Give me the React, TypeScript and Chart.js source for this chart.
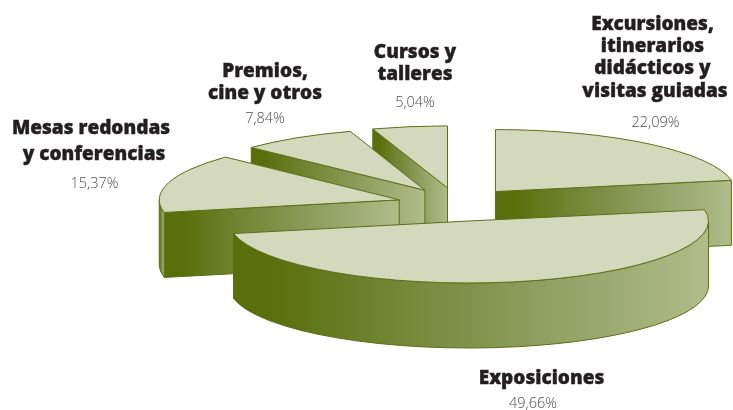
import React, { useEffect, useRef } from "react";
import { Chart, registerables } from "chart.js";

Chart.register(...registerables);

const categories = [
  "Excursiones, itinerarios didácticos y visitas guiadas",
  "Exposiciones",
  "Mesas redondas y conferencias",
  "Premios, cine y otros",
  "Cursos y talleres",
];
const shares = [22.09, 49.66, 15.37, 7.84, 5.04];
const labelLines = [
  ["Excursiones,", "itinerarios", "didácticos y", "visitas guiadas"],
  ["Exposiciones"],
  ["Mesas redondas", "y conferencias"],
  ["Premios,", "cine y otros"],
  ["Cursos y", "talleres"],
];

// Layout of the text blocks: centre x and baseline of every name line, then the share's position
const labelLayout = [
  { xs: [652.5, 652.5, 652.5, 655], ys: [30, 52, 74, 97], vy: 127, vx: 655.5 },
  { xs: [541.5], ys: [384], vy: 408, vx: 533 },
  { xs: [91, 94], ys: [134, 160], vy: 188, vx: 94.5 },
  { xs: [265, 265], ys: [77, 99], vy: 123, vx: 265 },
  { xs: [415, 415], ys: [58, 80], vy: 107, vx: 415 },
];

const CENTER_X = 457;
const CENTER_Y = 204.5;
const RADIUS_X = 240;
const RADIUS_Y = 62;
const OFFSET_TILT = 0.28;
const DEPTH = 65;
const SLICE_OFFSET = 45.6;

const CAP = "#d4d9be";
const EDGE = "#5d7014";
const LINE_WIDTH = 1;

function wallGradient(ctx: CanvasRenderingContext2D, x0: number, x1: number) {
  const g = ctx.createLinearGradient(x0, 0, x1, 0);
  g.addColorStop(0, "#5a6e0c");
  g.addColorStop(0.08, "#5a6e0c");
  g.addColorStop(0.3, "#6f8330");
  g.addColorStop(0.65, "#8f9f60");
  g.addColorStop(1, "#b0bc8a");
  return g;
}

const pie3d = {
  id: "pie3d",
  beforeDatasetDraw(chart: any) {
    const ctx: CanvasRenderingContext2D = chart.ctx;
    const arcs = chart.getDatasetMeta(0).data as any[];
    const slices = arcs.map((arc, i) => {
      const scale = RADIUS_X / arc.outerRadius;
      const mid = (arc.startAngle + arc.endAngle) / 2;
      const off = (arc.options.offset || 0) * scale;
      return {
        i,
        a0: arc.startAngle,
        a1: arc.endAngle,
        x: CENTER_X + off * Math.cos(mid),
        y: CENTER_Y + off * OFFSET_TILT * Math.sin(mid),
        fill: arc.options.backgroundColor,
      };
    });
    slices.sort((p, q) => p.y - q.y);

    ctx.save();
    ctx.lineWidth = LINE_WIDTH;
    ctx.strokeStyle = EDGE;
    ctx.lineJoin = "round";
    for (const s of slices) {
      const px = (a: number) => s.x + RADIUS_X * Math.cos(a);
      const py = (a: number) => s.y + RADIUS_Y * Math.sin(a);

      const radial = (a: number) => {
        const x0 = Math.min(s.x, px(a));
        const x1 = Math.max(s.x, px(a));
        ctx.beginPath();
        ctx.moveTo(s.x, s.y);
        ctx.lineTo(px(a), py(a));
        ctx.lineTo(px(a), py(a) + DEPTH);
        ctx.lineTo(s.x, s.y + DEPTH);
        ctx.closePath();
        ctx.fillStyle = wallGradient(ctx, x0, x1);
        ctx.fill();
        ctx.stroke();
      };
      if (Math.cos(s.a0) < -1e-6) radial(s.a0);
      if (Math.cos(s.a1) > 1e-6) radial(s.a1);

      const from = Math.max(s.a0, 0);
      const to = Math.min(s.a1, Math.PI);
      if (to > from) {
        ctx.beginPath();
        ctx.ellipse(s.x, s.y, RADIUS_X, RADIUS_Y, 0, from, to);
        ctx.ellipse(s.x, s.y + DEPTH, RADIUS_X, RADIUS_Y, 0, to, from, true);
        ctx.closePath();
        ctx.fillStyle = wallGradient(ctx, Math.min(px(from), px(to)), Math.max(px(from), px(to)));
        ctx.fill();
        ctx.stroke();
      }

      ctx.beginPath();
      ctx.moveTo(s.x, s.y);
      ctx.ellipse(s.x, s.y, RADIUS_X, RADIUS_Y, 0, s.a0, s.a1);
      ctx.closePath();
      ctx.fillStyle = s.fill;
      ctx.fill();
      ctx.stroke();
    }
    ctx.restore();
    return false;
  },
  afterDatasetsDraw(chart: any) {
    const ctx: CanvasRenderingContext2D = chart.ctx;
    ctx.save();
    ctx.textAlign = "center";
    ctx.textBaseline = "alphabetic";
    labelLines.forEach((lines, i) => {
      const l = labelLayout[i];
      ctx.font = '800 19px "Open Sans"';
      ctx.fillStyle = "#231f20";
      ctx.strokeStyle = "#231f20";
      ctx.lineWidth = 0.4;
      lines.forEach((t, k) => {
        ctx.fillText(t, l.xs[k], l.ys[k]);
        ctx.strokeText(t, l.xs[k], l.ys[k]);
      });
      ctx.font = '300 14.5px "Open Sans"';
      ctx.fillStyle = "#4d4d4f";
      ctx.fillText(shares[i].toFixed(2).replace(".", ",") + "%", l.vx, l.vy);
    });
    ctx.restore();
  },
};

export default function App() {
  const ref = useRef<HTMLCanvasElement | null>(null);
  useEffect(() => {
    const chart = new Chart(ref.current as HTMLCanvasElement, {
      type: "pie",
      data: {
        labels: categories,
        datasets: [
          {
            data: shares,
            backgroundColor: CAP,
            borderColor: EDGE,
            borderWidth: 0,
            offset: SLICE_OFFSET,
          },
        ],
      },
      options: {
        responsive: false,
        animation: false,
        layout: { padding: 0 },
        plugins: { legend: { display: false }, tooltip: { enabled: false } },
      },
      plugins: [pie3d],
    } as any);
    return () => chart.destroy();
  }, []);
  return (
    <div style={{ position: "fixed", left: 0, top: 0, width: 733, height: 410, background: "#fff" }}>
      <canvas ref={ref} width={733} height={410} style={{ display: "block" }} />
    </div>
  );
}
